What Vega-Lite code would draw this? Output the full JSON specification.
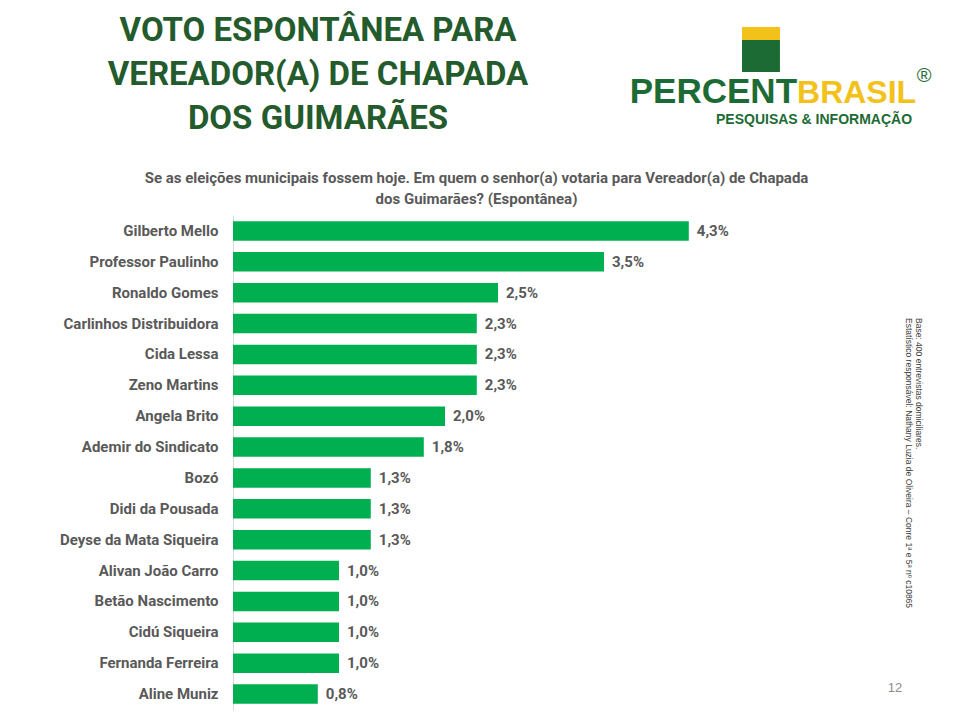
{
  "$schema": "https://vega.github.io/schema/vega-lite/v6.json",
  "width": 530,
  "height": 495,
  "autosize": {"type": "none"},
  "padding": {"left": 233, "top": 215, "right": 197, "bottom": 10},
  "background": "white",
  "config": {
    "view": {"stroke": null},
    "font": "Roboto",
    "locale": {"number": {"decimal": ",", "thousands": ".", "grouping": [3], "currency": ["R$", ""]}}
  },
  "resolve": {"scale": {"y": "independent"}},
  "layer": [
    {
      "data": {"name": "votes", "values": [
        {"name": "Gilberto Mello", "pct": 0.043},
        {"name": "Professor Paulinho", "pct": 0.035},
        {"name": "Ronaldo Gomes", "pct": 0.025},
        {"name": "Carlinhos Distribuidora", "pct": 0.023},
        {"name": "Cida Lessa", "pct": 0.023},
        {"name": "Zeno Martins", "pct": 0.023},
        {"name": "Angela Brito", "pct": 0.020},
        {"name": "Ademir do Sindicato", "pct": 0.018},
        {"name": "Bozó", "pct": 0.013},
        {"name": "Didi da Pousada", "pct": 0.013},
        {"name": "Deyse da Mata Siqueira", "pct": 0.013},
        {"name": "Alivan João Carro", "pct": 0.010},
        {"name": "Betão Nascimento", "pct": 0.010},
        {"name": "Cidú Siqueira", "pct": 0.010},
        {"name": "Fernanda Ferreira", "pct": 0.010},
        {"name": "Aline Muniz", "pct": 0.008}
      ]},
      "encoding": {
        "y": {
          "field": "name", "type": "nominal", "sort": null,
          "scale": {"paddingInner": 0.37, "paddingOuter": 0.2},
          "axis": {
            "title": null, "ticks": false, "domain": true, "domainColor": "#d9d9d9",
            "labelFontSize": 15, "labelFontWeight": "bold", "labelColor": "#595959",
            "labelPadding": 15, "labelFont": "Roboto", "labelLimit": 300
          }
        },
        "x": {
          "field": "pct", "type": "quantitative",
          "scale": {"domain": [0, 0.05], "nice": false},
          "axis": {
            "orient": "top", "domain": false, "ticks": false, "labels": false, "grid": false,
            "title": ["Se as eleições municipais fossem hoje. Em quem o senhor(a) votaria para Vereador(a) de Chapada", "dos Guimarães? (Espontânea)"],
            "titleFont": "Roboto", "titleFontSize": 15, "titleFontWeight": "bold",
            "titleColor": "#595959", "titleLineHeight": 21, "titleBaseline": "middle",
            "titleX": 243, "titleY": -38, "titleAlign": "center"
          }
        }
      },
      "layer": [
        {"mark": {"type": "bar", "color": "#00b050"}},
        {
          "mark": {"type": "text", "align": "left", "baseline": "middle", "dx": 8,
                   "fontSize": 15, "fontWeight": "bold", "color": "#595959", "font": "Roboto"},
          "encoding": {
            "text": {"field": "pct", "type": "quantitative", "format": ".1%"}
          }
        }
      ]
    },
    {
      "data": {"values": [{"t": ["VOTO ESPONTÂNEA PARA", "VEREADOR(A) DE CHAPADA", "DOS GUIMARÃES"]}]},
      "mark": {"type": "text", "align": "center", "baseline": "middle", "fontSize": 33,
               "lineHeight": 44, "fontWeight": "bold", "font": "Roboto", "color": "#245b2d"},
      "encoding": {
        "x": {"datum": 0.008019, "type": "quantitative"},
        "y": {"datum": 137.17, "type": "quantitative", "scale": {"domain": [0, 100]}, "axis": null},
        "text": {"field": "t"}
      }
    },
    {
      "data": {"values": [{"part": "flag-top"}]},
      "mark": {"type": "rect", "color": "#f2c21b"},
      "encoding": {
        "x": {"datum": 0.04802, "type": "quantitative"},
        "x2": {"datum": 0.0516},
        "y": {"datum": 137.98, "type": "quantitative", "scale": {"domain": [0, 100]}, "axis": null},
        "y2": {"datum": 135.35}
      }
    },
    {
      "data": {"values": [{"part": "flag-body"}]},
      "mark": {"type": "rect", "color": "#1d6b34"},
      "encoding": {
        "x": {"datum": 0.04802, "type": "quantitative"},
        "x2": {"datum": 0.0516},
        "y": {"datum": 135.35, "type": "quantitative", "scale": {"domain": [0, 100]}, "axis": null},
        "y2": {"datum": 128.89}
      }
    },
    {
      "data": {"values": [{"t": "PERCENT"}]},
      "mark": {"type": "text", "align": "right", "baseline": "alphabetic", "fontSize": 35,
               "fontWeight": "bold", "font": "Liberation Sans", "color": "#1d6b34"},
      "encoding": {
        "x": {"datum": 0.05321, "type": "quantitative"},
        "y": {"datum": 122.63, "type": "quantitative", "scale": {"domain": [0, 100]}, "axis": null},
        "text": {"field": "t"}
      }
    },
    {
      "data": {"values": [{"t": "BRASIL"}]},
      "mark": {"type": "text", "align": "left", "baseline": "alphabetic", "fontSize": 32,
               "fontWeight": "bold", "font": "Liberation Sans", "color": "#f2c21b"},
      "encoding": {
        "x": {"datum": 0.05321, "type": "quantitative"},
        "y": {"datum": 122.63, "type": "quantitative", "scale": {"domain": [0, 100]}, "axis": null},
        "text": {"field": "t"}
      }
    },
    {
      "data": {"values": [{"t": "®"}]},
      "mark": {"type": "text", "align": "center", "baseline": "middle", "fontSize": 20,
               "font": "Liberation Sans", "color": "#1d6b34"},
      "encoding": {
        "x": {"datum": 0.06519, "type": "quantitative"},
        "y": {"datum": 128.1, "type": "quantitative", "scale": {"domain": [0, 100]}, "axis": null},
        "text": {"field": "t"}
      }
    },
    {
      "data": {"values": [{"t": "PESQUISAS & INFORMAÇÃO"}]},
      "mark": {"type": "text", "align": "right", "baseline": "middle", "fontSize": 14,
               "fontWeight": "bold", "font": "Liberation Sans", "color": "#1d6b34"},
      "encoding": {
        "x": {"datum": 0.06406, "type": "quantitative"},
        "y": {"datum": 119.19, "type": "quantitative", "scale": {"domain": [0, 100]}, "axis": null},
        "text": {"field": "t"}
      }
    },
    {
      "data": {"values": [{"t": "12"}]},
      "mark": {"type": "text", "align": "center", "baseline": "middle", "fontSize": 13,
               "font": "Liberation Sans", "color": "#8c8c8c"},
      "encoding": {
        "x": {"datum": 0.06245, "type": "quantitative"},
        "y": {"datum": 4.44, "type": "quantitative", "scale": {"domain": [0, 100]}, "axis": null},
        "text": {"field": "t"}
      }
    },
    {
      "data": {"values": [{"t": ["Base: 400 entrevistas domiciliares.", "Estatístico responsável: Nathany Luzia de Oliveira – Conre 1ª e 5ª nº c10865"]}]},
      "mark": {"type": "text", "align": "left", "baseline": "middle", "angle": 90, "fontSize": 8.5,
               "lineHeight": 10.5, "font": "Liberation Sans", "color": "#404040"},
      "encoding": {
        "x": {"datum": 0.06472, "type": "quantitative"},
        "y": {"datum": 79.19, "type": "quantitative", "scale": {"domain": [0, 100]}, "axis": null},
        "text": {"field": "t"}
      }
    }
  ]
}
